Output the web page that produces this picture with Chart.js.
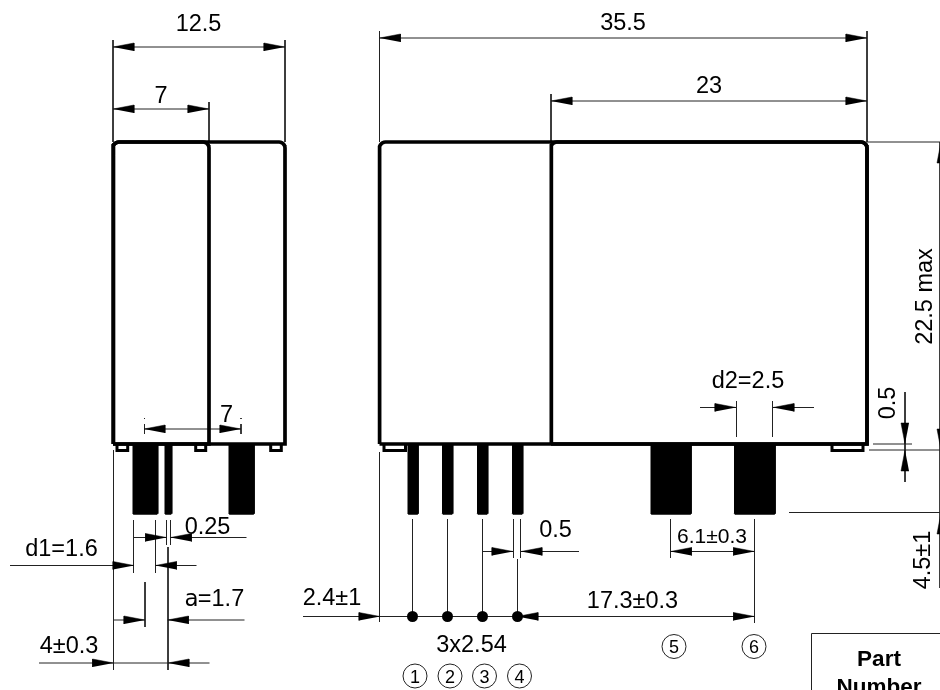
<!DOCTYPE html>
<html>
<head>
<meta charset="utf-8">
<title>Relay outline</title>
<script src="https://cdn.jsdelivr.net/npm/chart.js@4"></script>
<style>
    html, body { margin: 0; padding: 0; background: #fff; overflow: hidden; }
    canvas { display: block; }
</style>
</head>
<body>
<canvas id="drawing" width="940" height="690"></canvas>
<script>

// housing: left, top, right, bottom
const bodyBoxes = [
    [113, 142, 209, 444],
    [113, 142, 285, 444],
    [379.5, 142, 867, 444],
    [551, 142, 867, 444]
];

// small feet under the housing: left, right
const footSpans = [[117, 127.7], [195.7, 205.7], [270.7, 281.3], [384, 405.5], [832, 863]];

// pins: left, right
const pinSpans = [
    [132.5, 158], [164.5, 172], [228.5, 254.5],
    [407.5, 418.5], [442, 453], [477, 488], [512, 523],
    [650.5, 691.5], [734, 775.5]
];

// dimension and extension lines: x1, y1, x2, y2
const thinLines = [
    // 12.5 and 7, left view
    [113, 40, 113, 142], [285, 40, 285, 142], [113, 47, 285, 47],
    [209, 102, 209, 142], [113, 109, 209, 109],
    // 35.5 and 23, right view
    [379.5, 31, 379.5, 142], [867, 31, 867, 142], [379.5, 38, 867, 38],
    [551, 94, 551, 142], [551, 101, 867, 101],
    // 22.5 max, 4.5, 0.5
    [867, 142, 940, 142], [869, 450, 940, 450], [789, 512.5, 940, 512.5],
    [873, 444, 912, 444], [905, 392, 905, 482], [940, 142, 940, 588],
    // inner 7
    [144, 429, 241, 429], [144.5, 424, 144.5, 434], [241, 424, 241, 434],
    [144.5, 418, 144.5, 419], [241, 418, 241, 419],
    // left view pin dims
    [133.5, 520, 133.5, 573], [155.5, 520, 155.5, 573],
    [166.5, 520, 166.5, 545], [170.5, 520, 170.5, 545],
    [133.5, 537.5, 166, 537.5], [170.5, 537.5, 246.5, 537.5],
    [10, 565.5, 134, 565.5], [155.5, 565.5, 196.5, 565.5],
    [113.5, 450, 113.5, 670], [168, 547, 168, 670], [145, 582, 145, 627],
    [113.5, 620, 145, 620], [168, 620, 244.5, 620],
    [39, 663, 209.5, 663],
    // pin centre lines and pitch
    [412.5, 519, 412.5, 616.5], [447.5, 519, 447.5, 616.5], [482.5, 519, 482.5, 616.5],
    [517.5, 559, 517.5, 616.5], [379.5, 452, 379.5, 622], [303, 616.5, 755, 616.5],
    [513.5, 519, 513.5, 558], [520.5, 519, 520.5, 558],
    [482.5, 551.5, 513, 551.5], [521, 551.5, 579, 551.5],
    // d2 and 6.1
    [700, 407.5, 736, 407.5], [773, 407.5, 814, 407.5],
    [736.5, 401, 736.5, 437], [772.5, 401, 772.5, 437],
    [670.5, 519, 670.5, 558], [754.5, 519, 754.5, 623], [670.5, 551.5, 754.5, 551.5],
    // part number box
    [811.5, 690, 811.5, 633.5], [811.5, 633.5, 940, 633.5]
];

// arrowheads: tip x, tip y, direction it points
const arrowTips = [
    [113, 47, 'left'], [285, 47, 'right'], [113, 109, 'left'], [209, 109, 'right'],
    [379.5, 38, 'left'], [867, 38, 'right'], [551, 101, 'left'], [867, 101, 'right'],
    [144, 429, 'left'], [241, 429, 'right'],
    [166.5, 537.5, 'right'], [170.5, 537.5, 'left'],
    [134, 565.5, 'right'], [155.5, 565.5, 'left'],
    [145, 620, 'right'], [167.5, 620, 'left'],
    [113.5, 663, 'right'], [168, 663, 'left'],
    [380, 616.5, 'right'], [517, 616.5, 'left'], [754.5, 616.5, 'right'],
    [513, 551.5, 'right'], [521, 551.5, 'left'],
    [736, 407.5, 'right'], [773, 407.5, 'left'],
    [670.5, 551.5, 'left'], [754.5, 551.5, 'right'],
    [905, 444, 'down'], [905, 450, 'up'],
    [941, 142, 'up'], [941, 450, 'down'], [941, 513, 'up']
];

// pin pitch dots and numbered pin circles
const dotXs = [412.5, 447.5, 482.5, 517.5];
const dotYs = [616.5, 616.5, 616.5, 616.5];
const pinNumbers = ['1', '2', '3', '4', '5', '6'];
const pinNumberXs = [415, 450, 484.5, 519.5, 674, 754];
const pinNumberYs = [676, 676, 676, 676, 646.5, 646.5];

// text: string, x, baseline y
const labelTexts = ['12.5', '7', '35.5', '23', '7', '0.25', 'd1=1.6', '=1.7', '4±0.3', '2.4±1', '0.5', '3x2.54', '17.3±0.3', 'd2=2.5'];
const labelXs = [198.5, 161, 623, 709, 226.5, 207.5, 61.5, 221, 69, 332, 555.5, 471.5, 632.5, 748];
const labelYs = [31, 103, 30, 93, 421.5, 534, 555.5, 606, 653, 605, 537, 652, 608, 388];
const smallTexts = ['6.1±0.3'];
const smallXs = [712];
const smallYs = [542.5];
const serifTexts = ['a'];
const serifXs = [191.5];
const serifYs = [606];
const boldTexts = ['Part', 'Number'];
const boldXs = [879, 879];
const boldYs = [665.5, 694];
const sideTexts = ['22.5 max', '0.5', '4.5±1'];
const sideXs = [931.5, 895, 930];
const sideYs = [296.5, 403, 560];

const footBottom = 450.5;
const pinTop = 444;
const pinBottom = 514.5;
const arrowLength = 21;
const arrowHalf = 4;
const cornerRadius = 6;

function boxPoints(box) {
    let [l, t, r, b] = box;
    let c = cornerRadius;
    let pts = [{x: l, y: b}];
    for (let i = 0; i <= 6; i++) {
        let a = i / 6 * Math.PI / 2;
        pts.push({x: l + c - c * Math.cos(a), y: t + c - c * Math.sin(a)});
    }
    for (let i = 6; i >= 0; i--) {
        let a = i / 6 * Math.PI / 2;
        pts.push({x: r - c + c * Math.cos(a), y: t + c - c * Math.sin(a)});
    }
    pts.push({x: r, y: b}, {x: l, y: b});
    return pts;
}

function arrowPoints(tip) {
    let [x, y, dir] = tip;
    if (dir === 'left') return [{x, y}, {x: x + arrowLength, y: y - arrowHalf}, {x: x + arrowLength, y: y + arrowHalf}];
    if (dir === 'right') return [{x, y}, {x: x - arrowLength, y: y - arrowHalf}, {x: x - arrowLength, y: y + arrowHalf}];
    if (dir === 'up') return [{x, y}, {x: x - arrowHalf, y: y + arrowLength}, {x: x + arrowHalf, y: y + arrowLength}];
    return [{x, y}, {x: x - arrowHalf, y: y - arrowLength}, {x: x + arrowHalf, y: y - arrowLength}];
}

function pinPoints(span) {
    let [l, r] = span;
    return [
        {x: l, y: pinTop}, {x: r, y: pinTop}, {x: r, y: pinBottom - 1},
        {x: r - 1, y: pinBottom}, {x: l + 1, y: pinBottom}, {x: l, y: pinBottom - 1}
    ];
}

function lineSet(points, width, color) {
    return {
        data: points, showLine: true, fill: false, tension: 0,
        borderColor: color, borderWidth: width, borderJoinStyle: 'miter',
        pointRadius: 0, pointHoverRadius: 0
    };
}

function shapeSet(points) {
    return {
        data: points, showLine: true, fill: 'shape', tension: 0,
        backgroundColor: '#000', borderColor: '#000', borderWidth: 0.5,
        pointRadius: 0, pointHoverRadius: 0
    };
}

let datasets = [];

datasets.push({
    data: dotXs.map((x, i) => ({x, y: dotYs[i]})),
    showLine: false, pointRadius: 5.5, pointBackgroundColor: '#000', pointBorderWidth: 0
});
datasets.push({
    data: pinNumberXs.map((x, i) => ({x, y: pinNumberYs[i]})),
    showLine: false, pointRadius: 12, pointBackgroundColor: '#fff',
    pointBorderColor: '#222', pointBorderWidth: 1
});
arrowTips.forEach(t => datasets.push(shapeSet(arrowPoints(t))));
bodyBoxes.forEach(b => datasets.push(lineSet(boxPoints(b), 3.7, '#000')));
footSpans.forEach(f => datasets.push(lineSet([
    {x: f[0], y: pinTop}, {x: f[0], y: footBottom}, {x: f[1], y: footBottom}, {x: f[1], y: pinTop}
], 3, '#000')));
pinSpans.forEach(p => datasets.push(shapeSet(pinPoints(p))));
thinLines.forEach(l => datasets.push(lineSet([{x: l[0], y: l[1]}, {x: l[2], y: l[3]}], 1, '#222')));

function drawTexts(chart, texts, xs, ys, font, rotated) {
    let ctx = chart.ctx;
    let sx = chart.scales.x;
    let sy = chart.scales.y;
    ctx.save();
    ctx.font = font;
    ctx.fillStyle = '#000';
    ctx.textAlign = 'center';
    ctx.textBaseline = 'alphabetic';
    texts.forEach((t, i) => {
        let px = sx.getPixelForValue(xs[i]);
        let py = sy.getPixelForValue(ys[i]);
        if (rotated) {
            ctx.save();
            ctx.translate(px, py);
            ctx.rotate(-Math.PI / 2);
            ctx.fillText(t, 0, 0);
            ctx.restore();
        } else {
            ctx.fillText(t, px, py);
        }
    });
    ctx.restore();
}

const textPlugin = {
    id: 'drawingText',
    afterDraw(chart) {
        drawTexts(chart, labelTexts, labelXs, labelYs, '23.5px "Liberation Sans"', false);
        drawTexts(chart, smallTexts, smallXs, smallYs, '21px "Liberation Sans"', false);
        drawTexts(chart, serifTexts, serifXs, serifYs, '23px "DejaVu Sans"', false);
        drawTexts(chart, boldTexts, boldXs, boldYs, 'bold 22.5px "Liberation Sans"', false);
        drawTexts(chart, sideTexts, sideXs, sideYs, '23.5px "Liberation Sans"', true);
        let numberYs = pinNumberYs.map(y => y + 6.5);
        drawTexts(chart, pinNumbers, pinNumberXs, numberYs, '18px "Liberation Sans"', false);
    }
};

new Chart(document.getElementById('drawing').getContext('2d'), {
    type: 'scatter',
    data: {datasets: datasets},
    plugins: [textPlugin],
    options: {
        responsive: false,
        animation: false,
        devicePixelRatio: 1,
        events: [],
        layout: {padding: 0, autoPadding: false},
        plugins: {legend: {display: false}, tooltip: {enabled: false}},
        scales: {
            x: {type: 'linear', min: 0, max: 940, display: false},
            y: {type: 'linear', min: 0, max: 690, reverse: true, display: false}
        }
    }
});
</script>
</body>
</html>
